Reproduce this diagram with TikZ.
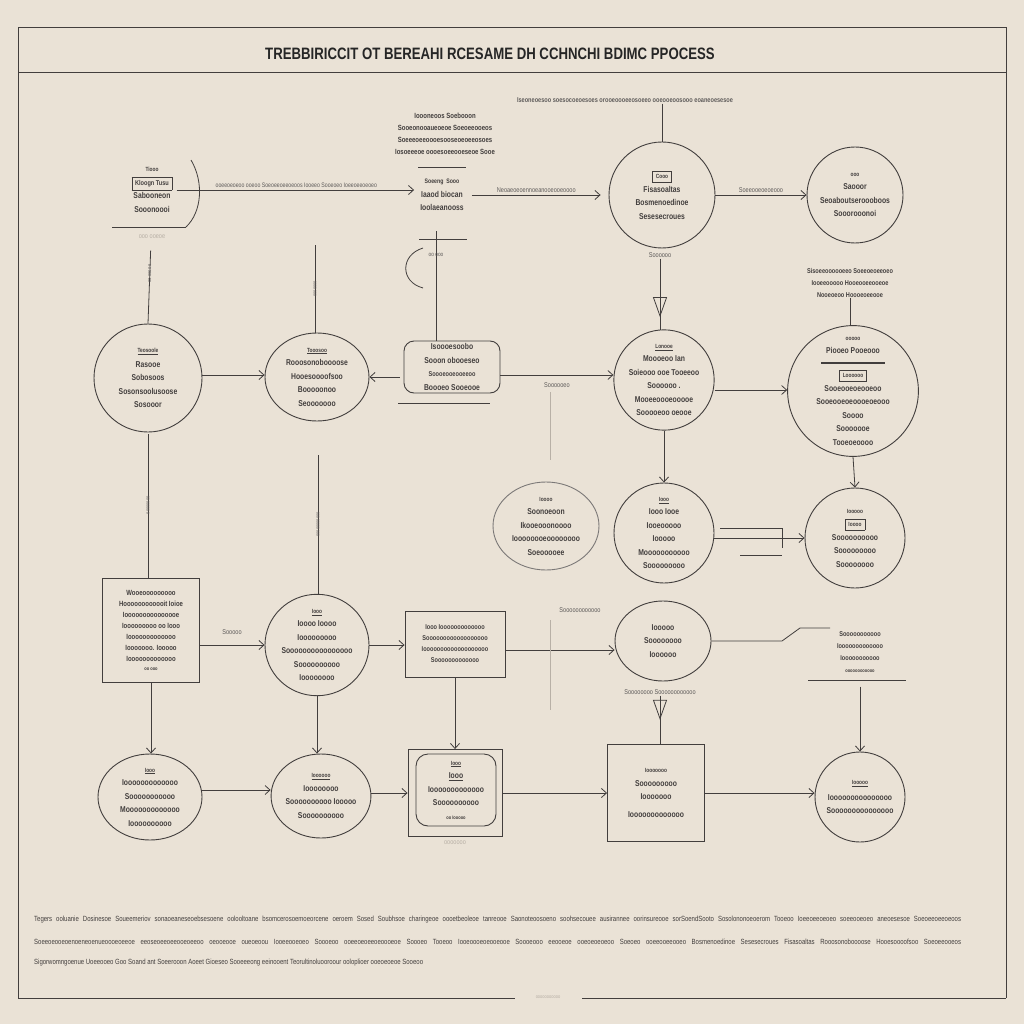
\documentclass[tikz,border=0pt]{standalone}
\usepackage{fontspec}
\setmainfont{Liberation Sans}
\newfontfamily\condf[FakeStretch=0.8]{Liberation Sans}
\usetikzlibrary{arrows.meta,shapes.geometric,decorations.markings}
\definecolor{paper}{HTML}{EAE2D6}
\definecolor{ink}{HTML}{423E3D}
\definecolor{faint}{HTML}{B8B0A6}
\tikzset{
  txt/.style={font=\condf\bfseries\fontsize{8.5}{13.5}\selectfont, align=center, text=ink, inner sep=0pt},
  lbl/.style={font=\condf\fontsize{7}{9}\selectfont, text=ink!85, inner sep=1pt},
  circ/.style={txt, draw=ink, line width=0.9pt, circle},
  ell/.style={txt, draw=ink, line width=0.9pt, ellipse},
  boxn/.style={txt, draw=ink, line width=0.9pt, rectangle},
  conn/.style={draw=ink, line width=0.8pt},
  arr/.style={conn, -{Straight Barb[length=5pt,width=9pt]}},
  tri/.style={conn, postaction={decorate}, decoration={markings, mark=at position #1 with {\arrow{Triangle[open,length=20pt,width=14pt,line width=0.8pt]}}}},
  thin/.style={draw=faint, line width=0.6pt},
  para/.style={lbl, anchor=west, font=\condf\fontsize{7.5}{9}\selectfont, text=ink}
}
\begin{document}
\begin{tikzpicture}[x=1pt,y=-1pt]
\fill[paper] (0,0) rectangle (1024,1024);
\useasboundingbox (0,0) rectangle (1024,1024);
% frame
\draw[ink, line width=1pt] (18,998) -- (18,28) -- (1006,28) -- (1006,998);
\draw[ink, line width=1pt] (18,998) -- (515,998);
\draw[ink, line width=1pt] (582,998) -- (1006,998);
\node[lbl, text=faint] (foot) at (548,997) {\fontsize{5}{5}\selectfont ooooooooooo};
\draw[ink, line width=1pt] (18,73) -- (1006,73);
\node[font=\condf\bfseries\fontsize{16.5}{17}\selectfont, text=black!85] (title) at (490,54) {TREBBIRICCIT OT BEREAHI RCESAME DH CCHNCHI BDIMC PPOCESS};

% ---------- top text block ----------
\node[lbl, font=\condf\bfseries\fontsize{7}{9}\selectfont] (t0) at (625,100) {Iseoneoesoo soesocoeoesoes orooeoooeeosoeeo ooeooeoosooo eoaneoesesoe};
\node[txt, font=\condf\bfseries\fontsize{7.5}{12}\selectfont] (t1) at (445,134) {Ioooneoos Soebooon\\ Sooeonooaueoeoe Soeoeeooeos\\ Soeeeoeeoooesooseoeoeeosoes\\ Iosoeeeoe oooesoeeooeseoe Sooe};

% ---------- row 1 ----------
\node[txt] (A) at (152,190) {\fontsize{6}{7}\selectfont Tiooo\\ \fbox{\fontsize{7}{8}\selectfont Kloogn Tusu}\\ Sabooneon\\ Sooonoooi};
\draw[conn] (112,227) -- (186,227);
\draw[conn] (191,160) .. controls (204,182) and (202,212) .. (186,227);
\node[lbl, text=faint] (Au) at (152,237) {ooo ooeoe};

\node[txt] (B) at (442,195) {\fontsize{6.5}{8}\selectfont Soeeng \ Sooo\\ Iaaod biocan\\ Ioolaeanooss};
\draw[conn] (418,167) -- (466,167);
\draw[conn] (419,239) -- (467,239);

\node[circ, minimum size=106pt] (C) at (662,195) {\fontsize{6}{8}\selectfont\fbox{Cooo}\\ Fisasoaltas\\ Bosmenoedinoe\\ Sesesecroues};
\node[circ, minimum size=96pt] (D) at (855,195) {\fontsize{6}{8}\selectfont ooo\\ Saooor\\ Seoaboutseroooboos\\ Sooorooonoi};
\draw[conn] (C.north |- t0.south) -- (C.north);

\draw[arr, shorten <=4pt, shorten >=6pt] (A.east) -- node[lbl, above=1pt, font=\condf\fontsize{6.5}{8}\selectfont] {ooeeoeoeoo ooeoo Soeoeeoeeoeoos Iooeeo Sooeoeo Ioeeoeeoeoeo} (A.east -| B.west);
\draw[arr, shorten <=8pt, shorten >=8pt] (B.east) -- node[lbl, above=1pt] {Neoaeoeoennoeanooeooeoooo} (B.east -| C.west);
\draw[arr] (C.east) -- node[lbl, above=1pt] {Soeeooeoeoeooo} (D.west);
\node[lbl] (Cl) at (660,255) {Soooooo};
\draw[tri=0.82] (Cl.south) -- (Cl.south |- 0,330);

% ---------- row 2 ----------
\node[circ, minimum size=108pt] (E) at (148,378) {\fontsize{6}{7}\selectfont\underline{Teosoole}\\[1pt] Rasooe\\ Sobosoos\\ Sosonsoolusoose\\ Sosooor};
\node[ell, minimum width=104pt, minimum height=88pt] (F) at (317,377) {\fontsize{6}{7}\selectfont\underline{Tooosoo}\\ Rooosonoboooose\\ Hooesoooofsoo\\ Booooonoo\\ Seooooooo};
\node[boxn, rounded corners=10pt, minimum width=96pt, minimum height=52pt] (G) at (452,367) {Isoooesoobo\\ Sooon obooeseo\\ \fontsize{7}{8}\selectfont Soooeooeooeeoo\\ Boooeo Sooeooe};
\draw[conn] (398,403) -- (490,403);
\node[circ, minimum size=100pt] (H) at (664,380) {\fontsize{6}{7}\selectfont\underline{Lonooe}\\ Moooeoo Ian\\ Soieooo ooe Tooeeoo\\ Soooooo .\\ Mooeeoooeooooe\\ Sooooeoo oeooe};
\node[circ, minimum size=124pt] (I) at (853,391) {\fontsize{6}{7}\selectfont ooooo\\ Piooeo Pooeooo\\[-3pt] \rule{64pt}{2pt}\\ \fbox{\fontsize{6}{7}\selectfont Loooooo}\\ Sooeooeoeooeoo\\ Sooeooeoeoooeoeooo\\ Soooo\\ Sooooooe\\ Tooeoeoooo};
\node[txt, font=\condf\bfseries\fontsize{7}{12}\selectfont] (It) at (850,283) {Sisoeeoooooeeo Soeeoeoeeoeo\\ Iooeeooooo Hooeooeeooeoe\\ Nooeoeoo Hoooeoeeooe};

\draw[arr] (E.east) ++(0,-3) coordinate (e1) -- (e1 -| F.west);
\draw[arr, shorten <=4pt] (G.west) ++(0,10) coordinate (g0) -- (g0 -| F.east);
\draw[arr] (G.east) ++(0,8) coordinate (g1) -- node[lbl, below=6pt] {Soooooeo} (g1 -| H.west);
\draw[arr] (H.east) ++(0,10) coordinate (h1) -- (h1 -| I.west);
\draw[conn, shorten <=38pt] (A.south) -- node[lbl, pos=0.55, rotate=90, font=\condf\fontsize{5}{6}\selectfont] {oo ooo oo} (E.north);
\coordinate (f0) at (315,245);
\draw[conn] (f0) -- node[lbl, rotate=90, font=\condf\fontsize{5}{6}\selectfont] {ooooooo} (f0 |- F.north);
\draw[conn, shorten <=20pt] (B.south) ++(-6,0) coordinate (b1) -- (b1 |- G.north);
\draw[conn] (423,248) .. controls (400,255) and (400,282) .. (423,288);
\node[lbl, font=\condf\fontsize{6}{7}\selectfont] (Gl) at (436,255) {oo ooo};
\draw[conn] (It.south) -- (It.south |- I.north);
\draw[thin] (550,392) -- (550,460);

% ---------- row 3 ----------
\node[ell, draw=ink!70, minimum width=106pt, minimum height=88pt] (J) at (546,526) {\fontsize{6}{7}\selectfont Ioooo\\ Soonoeoon\\ Ikooeooonoooo\\ Ioooooooeoooooooo\\ Soeooooee};
\node[circ, minimum size=100pt] (K) at (664,533) {\fontsize{6}{7}\selectfont\underline{Iooo}\\ Iooo Iooe\\ Iooeooooo\\ Iooooo\\ Mooooooooooo\\ Sooooooooo};
\node[circ, minimum size=100pt] (L) at (855,538) {\fontsize{6}{7}\selectfont Iooooo\\ \fbox{\fontsize{6}{7}\selectfont Ioooo}\\ Soooooooooo\\ Sooooooooo\\ Soooooooo};
\draw[arr] (H.south) -- (K.north);
\draw[arr] (I.south) -- (L.north);
\draw[arr] (K.east) ++(0,5) coordinate (k1) -- (k1 -| L.west);
\draw[conn] (720,528) -- (782,528) -- (782,548);
\draw[conn] (740,555) -- (782,555);
\draw[conn, shorten <=2pt] (E.south) -- node[lbl, pos=0.5, rotate=90, font=\condf\fontsize{5}{6}\selectfont] {oooooooo} (148,578);
\coordinate (n0) at (318,455);

% ---------- row 4 ----------
\node[boxn, minimum width=97pt, minimum height=104pt, font=\condf\bfseries\fontsize{7.5}{11}\selectfont] (M) at (151,630) {Wooeooooooooo\\ Hoooooooooooit Ioioe\\ Iooooooooooooooe\\ Iooooooooo oo Iooo\\ Iooooooooooooo\\ Iooooooo. Iooooo\\ Iooooooooooooo\\[-2pt] \fontsize{5}{6}\selectfont oo ooo};
\node[ell, minimum width=104pt, minimum height=92pt] (N) at (317,645) {\fontsize{6}{7}\selectfont\underline{Iooo}\\ Ioooo Ioooo\\ Iooooooooo\\ Soooooooooooooooo\\ Soooooooooo\\ Ioooooooo};
\node[boxn, minimum width=100pt, minimum height=66pt, font=\condf\bfseries\fontsize{7}{11}\selectfont] (O) at (455,644) {Iooo Iooooooooooooo\\ Soooooooooooooooooo\\ Iooooooooooooooooooo\\ Sooooooooooooo};
\node[ell, minimum width=96pt, minimum height=80pt] (P) at (663,641) {Iooooo\\ Soooooooo\\ Ioooooo};
\node[txt, font=\condf\bfseries\fontsize{7}{12}\selectfont] (Q) at (860,652) {Sooooooooooo\\ Iooooooooooooo\\ Iooooooooooo\\ \fontsize{5}{6}\selectfont oooooooooooo};
\draw[conn] (808,680) -- (906,680);
\node[lbl] (Pl) at (660,692) {Soooooooo Soooooooooooo};
\node[lbl] (Ol) at (580,610) {Soooooooooooo};
\node[lbl] (Ml) at (232,632) {Sooooo};

\draw[conn] (n0) -- node[lbl, rotate=90, font=\condf\fontsize{5}{6}\selectfont] {ooooooooooo} (n0 |- N.north);
\draw[arr] (M.east) ++(0,15) coordinate (m1) -- (m1 -| N.west);
\draw[arr] (N.east) -- (N.east -| O.west);
\draw[arr] (O.east) ++(0,6) coordinate (o1) -- (o1 -| P.west);
\draw[conn] (P.east) -- (782,641) -- (800,628) -- (830,628);
\draw[thin] (550,620) -- (550,710);

% ---------- row 5 ----------
\node[ell, minimum width=104pt, minimum height=86pt] (R) at (150,797) {\fontsize{6}{7}\selectfont\underline{Iooo}\\ Iooooooooooooo\\ Sooooooooooo\\ Mooooooooooooo\\ Ioooooooooo};
\node[ell, minimum width=92pt, minimum height=84pt] (S) at (321,796) {\fontsize{6}{7}\selectfont\underline{Ioooooo}\\ Ioooooooo\\ Soooooooooo Iooooo\\ Soooooooooo};
\node[boxn, minimum width=94pt, minimum height=87pt] (T) at (455,793) {};
\node[boxn, rounded corners=12pt, minimum width=80pt, minimum height=72pt] (T2) at (456,790) {\fontsize{6}{7}\selectfont\underline{Iooo}\\ \underline{Iooo}\\ Iooooooooooooo\\ Soooooooooo\\ \fontsize{5}{6}\selectfont oo Iooooo};
\node[boxn, minimum width=97pt, minimum height=97pt] (U) at (656,793) {\fontsize{6}{7}\selectfont Iooooooo\\ Sooooooooo\\ Iooooooo\\[4pt] Iooooooooooooo};
\node[circ, minimum size=90pt] (V) at (860,797) {\fontsize{6}{7}\selectfont \underline{Iooooo}\\[2pt] Iooooooooooooooo\\ Sooooooooooooooo};
\node[lbl, text=faint] (Tl) at (455,843) {ooooooo};

\draw[arr] (M.south) -- (M.south |- R.north);
\draw[arr] (N.south) -- (N.south |- S.north);
\draw[arr] (O.south) -- (T.north);
\draw[tri=0.5] (Pl.south) -- (Pl.south |- U.north);
\draw[arr] (Q.south) ++(0,14) -- (V.north);
\draw[arr] (R.east) ++(0,-7) coordinate (r1) -- (r1 -| S.west);
\draw[arr] (S.east) ++(0,-3) coordinate (s1) -- (s1 -| T.west);
\draw[arr] (T.east) -- (U.west);
\draw[arr] (U.east) -- (U.east -| V.west);

% ---------- bottom paragraph ----------
\node[para] (p1) at (33,920) {\makebox[927pt][s]{Tegers ooluanie Dosinesoe Soueemeriov sonaoeaneseoebsesoene oolooltoane bsomcerosoemoeorcene oeroem Sosed Soubhsoe charingeoe oooetbeoleoe tanreooe Saonoteoosoeno soohsecouee ausirannee oorinsureooe sorSoendSooto Sosolononoeoerom Tooeoo Ioeeoeeoeoeo soeeooeoeo aneoesesoe Soeoeeoeeoeoos}};
\node[para] (p2) at (33,942) {\makebox[927pt][s]{Soeeoeooeoenoeneoenueoooeoeeoe eeoseoeeoeeooeoeeoo oeooeooe oueoeoou Iooeeooeoeo Soooeoo ooeeoeoeeoeoooeoe Soooeo Tooeoo Iooeoooeoeooeooe Soooeooo eeooeoe ooeoeoeoeoo Soeoeo ooeeooeeooeo Bosmenoedinoe Sesesecroues Fisasoaltas Rooosonoboooose Hooesoooofsoo Soeoeeooeos}};
\node[para] (p3) at (33,963) {Sigorwomngoenue Uoeeooeo Goo Soand ant Soeerooon Aoeet Gioeseo Sooeeeong eeinooent Teorultinoluooroour ooloplioer ooeoeoeoe Sooeoo};
\end{tikzpicture}
\end{document}
